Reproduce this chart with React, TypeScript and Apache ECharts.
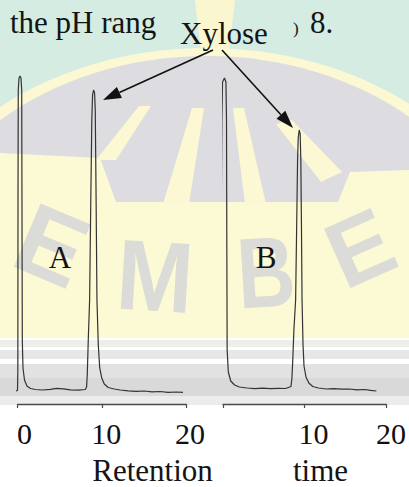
import React, { useEffect, useRef } from "react";
import * as echarts from "echarts";

// Retention time (min) vs detector signal (arbitrary units)
const chromatogramA: [number, number][] = [
  [-0.53, -6.07], [-0.53, -1.43], [-0.41, -0.54], [-0.18, -0.29], [0, -0.18],
  [0.04, 7.14], [0.06, 67.86], [0.09, 107.14], [0.18, 111.43], [0.3, 112.14],
  [0.41, 111.43], [0.5, 107.14], [0.53, 67.86], [0.57, 17.86], [0.65, 7.86],
  [0.83, 3.57], [1.12, 1.43], [1.54, 0.54], [2.13, 0.18], [2.96, 0],
  [3.91, 0.25], [4.62, 0.61], [5.44, 0.43], [6.27, 0.07], [7.22, -0.07],
  [8.05, 0.18], [8.2, 1.07], [8.28, 5.36], [8.4, 17.86], [8.56, 32.14],
  [8.7, 67.86], [8.82, 96.43], [8.91, 105.36], [9.03, 107.14], [9.15, 106.07],
  [9.23, 100], [9.33, 67.86], [9.43, 32.14], [9.59, 16.07], [9.76, 7.86],
  [10.0, 4.29], [10.3, 2.14], [10.77, 0.89], [11.48, 0.36], [12.19, 0],
  [13.14, -0.29], [14.08, -0.46], [15.03, -0.36], [15.98, -0.64], [16.92, -0.54],
  [17.87, -0.82], [18.82, -0.71], [19.64, -0.82],
];

const chromatogramB: [number, number][] = [
  [-1.07, -6.07], [-1.07, -0.71], [-0.89, 0.18], [-0.59, 0.71], [-0.47, 2.14],
  [-0.36, 7.14], [-0.24, 50], [-0.14, 96.43], [-0.06, 110], [0.18, 111.43],
  [0.36, 110], [0.43, 96.43], [0.47, 50], [0.51, 14.29], [0.65, 6.43],
  [0.95, 3.21], [1.42, 1.79], [2.01, 1.07], [2.96, 0.71], [3.91, 0.5],
  [4.85, 0.64], [5.8, 0.46], [6.75, 0.61], [7.69, 0.54], [8.34, 1.25],
  [8.46, 4.29], [8.56, 10.71], [8.7, 21.43], [8.91, 32.14], [9.05, 60.71],
  [9.15, 82.14], [9.23, 90], [9.35, 92.86], [9.47, 91.43], [9.55, 82.14],
  [9.62, 60.71], [9.7, 32.14], [9.82, 16.07], [9.94, 8.57], [10.18, 4.64],
  [10.53, 2.5], [11.01, 1.25], [11.72, 0.71], [12.66, 0.36], [13.61, 0.5],
  [14.56, 0.29], [15.5, 0.36], [16.45, 0.07], [17.4, 0.18], [18.11, -0.11],
  [18.82, -0.36],
];

const timeMin = 0;
const timeMax = 20;
const timeStep = 10;
const signalMin = -5;
const signalMax = 120;

const ticksA = ["0", "10", "20"];
const ticksB = ["", "10", "20"];

const panelLabels = ["A", "B"];
const peakName = "Xylose";
const axisTitleWords = ["Retention", "time"];
const captionLeft = "the pH rang";
const captionRightSmall = ")";
const captionRight = "8.";

const SERIF = "'Liberation Serif'";
const SANS = "'Liberation Sans'";

export default function App() {
  const ref = useRef<HTMLDivElement | null>(null);

  useEffect(() => {
    if (!ref.current) return;
    const chart = echarts.init(ref.current, undefined, { renderer: "svg" });

    const labelShiftA: Record<string, number> = { "0": 14, "10": 9, "20": 8 };
    const labelShiftB: Record<string, number> = { "0": 0, "10": 18, "20": 10 };

    const makeRich = (shifts: Record<string, number>) => {
      const rich: Record<string, any> = {};
      Object.keys(shifts).forEach((k) => {
        rich["s" + k] = {
          fontFamily: SERIF,
          fontSize: 30,
          lineHeight: 30,
          color: "#111111",
          padding: [0, 0, 0, shifts[k]],
        };
      });
      return rich;
    };

    const makeXAxis = (gridIndex: number, ticks: string[], shifts: Record<string, number>) => ({
      type: "value",
      gridIndex,
      min: timeMin,
      max: timeMax,
      interval: timeStep,
      axisLine: { show: true, onZero: false, lineStyle: { color: "#4a4a4a", width: 1.3 } },
      axisTick: { show: true, inside: false, length: 4, lineStyle: { color: "#4a4a4a", width: 1.2 } },
      splitLine: { show: false },
      axisLabel: {
        show: true,
        margin: 14,
        fontFamily: SERIF,
        fontSize: 30,
        lineHeight: 30,
        color: "#111111",
        formatter: (v: number) => {
          const idx = Math.round((v - timeMin) / timeStep);
          const t = ticks[idx];
          if (!t) return "";
          return `{s${t}|${t}}`;
        },
        rich: makeRich(shifts),
      },
    });

    const makeYAxis = (gridIndex: number) => ({
      type: "value",
      gridIndex,
      min: signalMin,
      max: signalMax,
      show: false,
    });

    const W = 409;
    const bgZ = -20;
    const letter = (t: string, x: number, y: number, rotation: number, scaleX: number, size: number) => ({
      type: "text", z: bgZ, x, y, rotation, scaleX,
      style: { text: t, fontFamily: SANS, fontWeight: "bold", fontSize: size, fill: "#dbdbd7", align: "center", verticalAlign: "middle" },
    });
    const background: any[] = [
      { type: "rect", z: bgZ, shape: { x: 0, y: 0, width: W, height: 487 }, style: { fill: "#ffffff" } },
      { type: "rect", z: bgZ, shape: { x: 0, y: 0, width: W, height: 340 }, style: { fill: "#fcfad4" } },
      { type: "rect", z: bgZ, shape: { x: 0, y: 0, width: W, height: 150 }, style: { fill: "#d5ece3" } },
      { type: "polygon", z: bgZ, shape: { points: [[195, 0], [235, 0], [229, 52], [201, 52]] }, style: { fill: "#f9f6d0" } },
      { type: "ellipse", z: bgZ, shape: { cx: 207, cy: 300, rx: 322, ry: 252 }, style: { fill: "#fbf8d3" } },
      { type: "ellipse", z: bgZ, shape: { cx: 207, cy: 300, rx: 306, ry: 244 }, style: { fill: "#dddce0" } },
      {
        type: "polygon", z: bgZ,
        shape: { points: [[0, 153], [100, 158], [116, 202], [338, 202], [350, 172], [W, 170], [W, 340], [0, 340]] },
        style: { fill: "#fcfad4" },
      },
      { type: "polygon", z: bgZ, shape: { points: [[139, 106], [151, 106], [116, 160], [96, 160]] }, style: { fill: "#fbf8d3" } },
      { type: "polygon", z: bgZ, shape: { points: [[192, 108], [204, 108], [189, 204], [163, 204]] }, style: { fill: "#fbf8d3" } },
      { type: "polygon", z: bgZ, shape: { points: [[233, 108], [244, 108], [266, 204], [245, 204]] }, style: { fill: "#fbf8d3" } },
      { type: "polygon", z: bgZ, shape: { points: [[276, 124], [292, 120], [342, 172], [321, 182]] }, style: { fill: "#fbf8d3" } },
      letter("E", 52, 245, -0.4, 1, 100),
      letter("M", 155, 276, -0.06, 0.92, 100),
      letter("B", 266, 272, 0.06, 0.8, 100),
      letter("E", 360, 248, 0.42, 1, 94),
      { type: "rect", z: bgZ, shape: { x: 0, y: 338, width: W, height: 149 }, style: { fill: "#ffffff" } },
      { type: "rect", z: bgZ, shape: { x: 0, y: 340, width: W, height: 7 }, style: { fill: "#eeeeea" } },
      { type: "rect", z: bgZ, shape: { x: 0, y: 350, width: W, height: 9 }, style: { fill: "#e7e7e5" } },
      { type: "rect", z: bgZ, shape: { x: 0, y: 364, width: W, height: 14 }, style: { fill: "#e2e2e2" } },
      { type: "rect", z: bgZ, shape: { x: 0, y: 378, width: W, height: 18 }, style: { fill: "#d9d9d9" } },
      { type: "rect", z: bgZ, shape: { x: 0, y: 396, width: W, height: 9 }, style: { fill: "#ececec" } },
    ];

    const fgZ = 50;
    const ink = "#141414";
    const txt = (t: string, x: number, y: number, size: number, align: string) => ({
      type: "text", z: fgZ, x, y,
      style: { text: t, fontFamily: SERIF, fontSize: size, fill: ink, align, verticalAlign: "middle" },
    });
    const foreground: any[] = [
      txt(captionLeft, 10, 22.5, 31, "left"),
      txt(captionRightSmall, 293, 28, 17, "left"),
      txt(captionRight, 310, 22.5, 31, "left"),
      txt(peakName, 180, 33, 31, "left"),
      txt(panelLabels[0], 60, 257.5, 31, "center"),
      txt(panelLabels[1], 266, 257.5, 31, "center"),
      txt(axisTitleWords[0], 152.5, 470, 31, "center"),
      txt(axisTitleWords[1], 320.5, 470, 31, "center"),
      { type: "line", z: fgZ, shape: { x1: 213, y1: 50, x2: 119.4, y2: 92.6 }, style: { stroke: "#111111", lineWidth: 1.6 } },
      { type: "polygon", z: fgZ, shape: { points: [[103, 100], [121.9, 98.0], [116.9, 87.1]] }, style: { fill: "#111111" } },
      { type: "line", z: fgZ, shape: { x1: 222, y1: 50, x2: 280.9, y2: 114.7 }, style: { stroke: "#111111", lineWidth: 1.6 } },
      { type: "polygon", z: fgZ, shape: { points: [[293, 128], [285.3, 110.7], [276.5, 118.7]] }, style: { fill: "#111111" } },
    ];

    const traceStyle = { color: "#333333", width: 1.2 };

    chart.setOption({
      animation: false,
      backgroundColor: "transparent",
      grid: [
        { left: 17, top: 54, width: 169, height: 350 },
        { left: 223, top: 54, width: 169, height: 350 },
      ],
      xAxis: [makeXAxis(0, ticksA, labelShiftA), makeXAxis(1, ticksB, labelShiftB)],
      yAxis: [makeYAxis(0), makeYAxis(1)],
      series: [
        {
          name: "A", type: "line", xAxisIndex: 0, yAxisIndex: 0, data: chromatogramA,
          showSymbol: false, symbol: "none", clip: false, z: 10, silent: true,
          lineStyle: traceStyle,
        },
        {
          name: "B", type: "line", xAxisIndex: 1, yAxisIndex: 1, data: chromatogramB,
          showSymbol: false, symbol: "none", clip: false, z: 10, silent: true,
          lineStyle: traceStyle,
        },
      ],
      graphic: { elements: [...background, ...foreground] },
    });

    return () => {
      chart.dispose();
    };
  }, []);

  return (
    <div
      ref={ref}
      style={{ position: "absolute", left: 0, top: 0, width: 409, height: 487 }}
    />
  );
}
